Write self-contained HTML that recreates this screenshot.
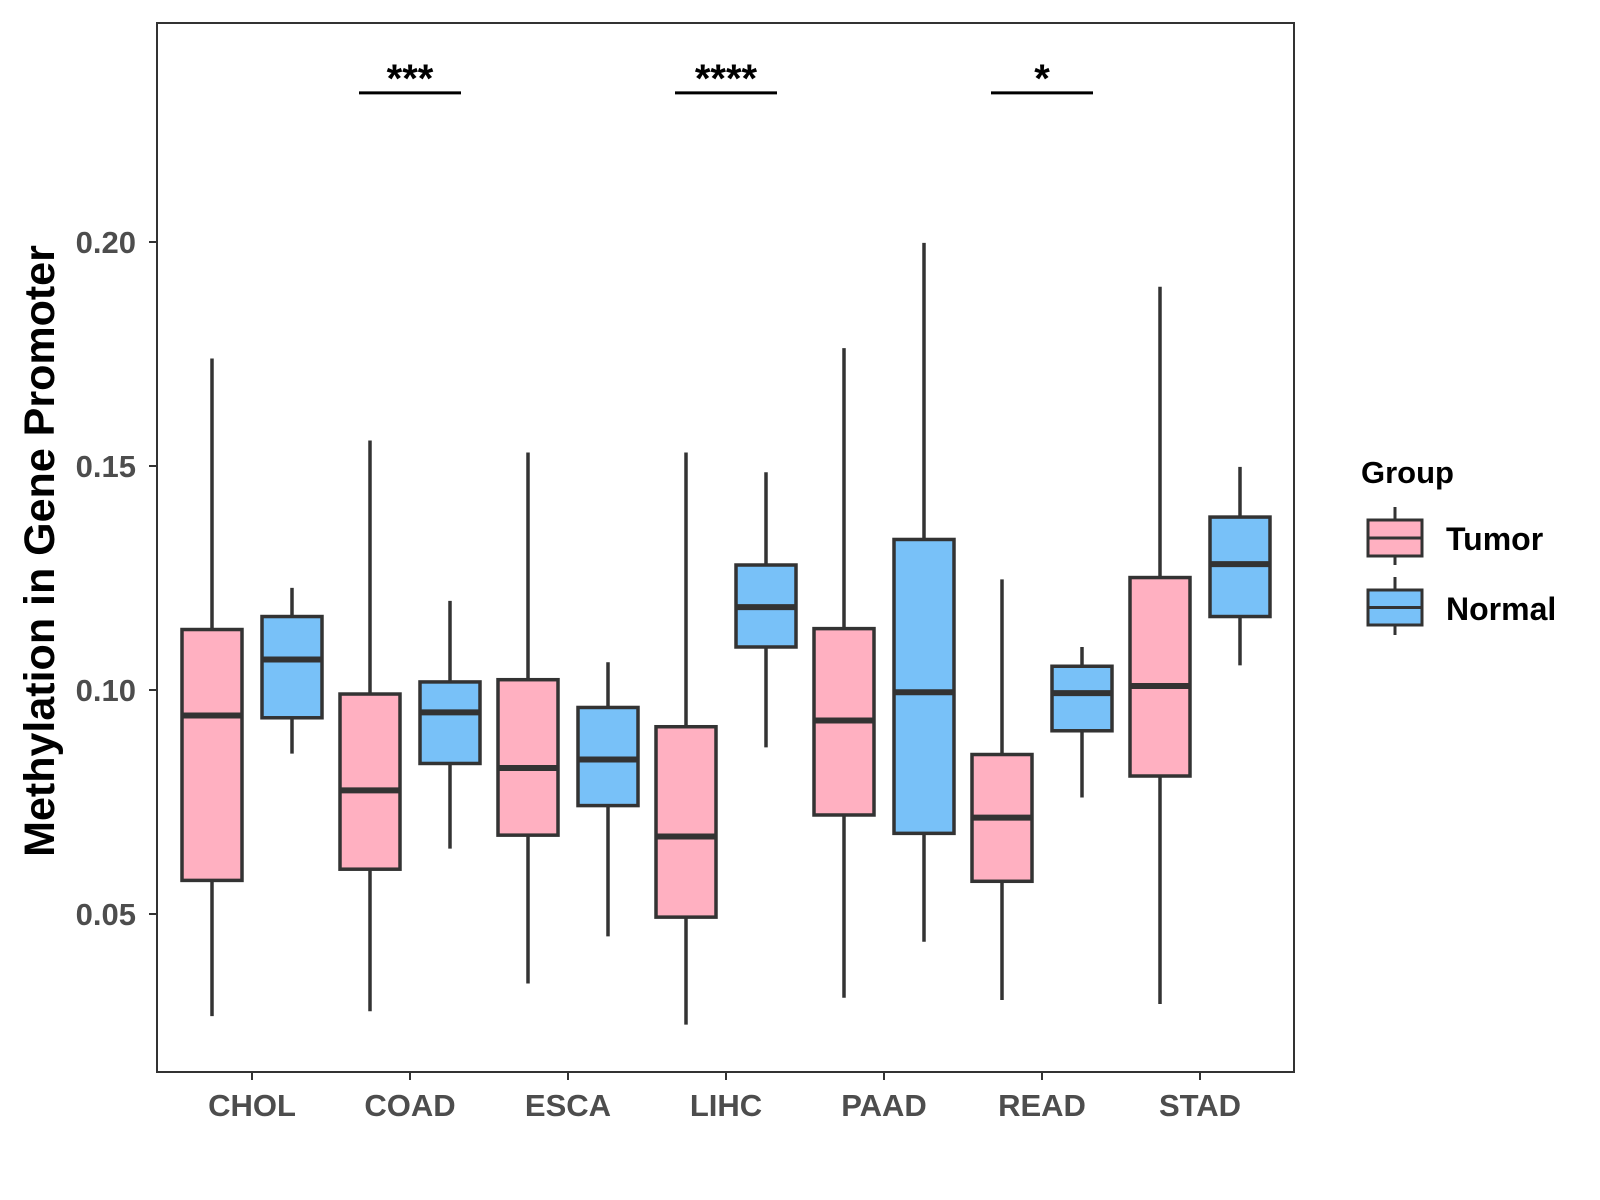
<!DOCTYPE html>
<html><head><meta charset="utf-8"><style>
html,body{margin:0;padding:0;background:#fff;}
svg{display:block;font-family:"Liberation Sans",Arial,sans-serif;font-weight:bold;}
</style></head><body>
<svg id="chart" width="1600" height="1200" viewBox="0 0 1600 1200">
<rect x="157" y="23" width="1137" height="1049" fill="#fff" stroke="#333" stroke-width="2"/>
<g id="boxes"></g>
<g id="axes"></g>
<g id="sig"></g>
<text transform="translate(54,551) rotate(-90)" text-anchor="middle" font-size="43" fill="#000">Methylation in Gene Promoter</text>
<g>
<text x="1368" y="483" font-size="31" fill="#000" transform="translate(-7,0)">Group</text>
<g transform="translate(-7,-1)">
<line x1="1402" y1="508" x2="1402" y2="566" stroke="#333" stroke-width="3"/>
<rect x="1375" y="521" width="54" height="36" fill="#FFB0C1" stroke="#333" stroke-width="3"/>
<line x1="1375" y1="539" x2="1429" y2="539" stroke="#333" stroke-width="3"/>
<text x="1453" y="551" font-size="32" fill="#000">Tumor</text>
</g>
<g transform="translate(-7,-1)">
<line x1="1402" y1="578" x2="1402" y2="636" stroke="#333" stroke-width="3"/>
<rect x="1375" y="591" width="54" height="35" fill="#78C1F8" stroke="#333" stroke-width="3"/>
<line x1="1375" y1="608.5" x2="1429" y2="608.5" stroke="#333" stroke-width="3"/>
<text x="1453" y="621" font-size="32" fill="#000">Normal</text>
</g>
</g>
</svg>
<script>
const categories=["CHOL","COAD","ESCA","LIHC","PAAD","READ","STAD"];
// [lowerWhisker, Q1, median, Q3, upperWhisker]
const tumorStats=[[0.0272,0.0575,0.0943,0.1135,0.174],[0.0283,0.060,0.0776,0.0991,0.1557],[0.0345,0.0676,0.0826,0.1023,0.153],[0.0253,0.0493,0.0673,0.0918,0.153],[0.0313,0.0721,0.0932,0.1137,0.1763],[0.0308,0.0573,0.0715,0.0856,0.1247],[0.0299,0.0808,0.1009,0.1251,0.19]];
const normalStats=[[0.0858,0.0938,0.1068,0.1164,0.1228],[0.0646,0.0836,0.095,0.1018,0.1199],[0.045,0.0742,0.0845,0.0961,0.1062],[0.0872,0.1096,0.1185,0.1279,0.1486],[0.0438,0.068,0.0995,0.1336,0.1998],[0.076,0.0909,0.0993,0.1053,0.1096],[0.1055,0.1164,0.1281,0.1386,0.1498]];
const yTicks=[0.05,0.10,0.15,0.20];
const yTickLabels=["0.05","0.10","0.15","0.20"];
const sigCats=["COAD","LIHC","READ"];
const sigLabels=["***","****","*"];
const sigY=0.2333;

const NS="http://www.w3.org/2000/svg";
function y(v){return 242+(0.20-v)*4480;}
function x(i){return 252+i*158;}
function mk(tag,attrs,parent){const e=document.createElementNS(NS,tag);for(const k in attrs)e.setAttribute(k,attrs[k]);parent.appendChild(e);return e;}
const boxes=document.getElementById('boxes'),axes=document.getElementById('axes'),sig=document.getElementById('sig');
function drawBox(cx,s,fill,name){
  const g=mk('g',{},boxes);
  
  
  mk('line',{x1:cx,x2:cx,y1:y(s[4]),y2:y(s[3]),stroke:'#333','stroke-width':3.5},g);
  mk('line',{x1:cx,x2:cx,y1:y(s[1]),y2:y(s[0]),stroke:'#333','stroke-width':3.5},g);
  mk('rect',{x:cx-30,y:y(s[3]),width:60,height:y(s[1])-y(s[3]),fill:fill,stroke:'#333','stroke-width':3.5},g);
  mk('line',{x1:cx-30,x2:cx+30,y1:y(s[2]),y2:y(s[2]),stroke:'#333','stroke-width':6},g);
}
categories.forEach((c,i)=>{
  drawBox(x(i)-40,tumorStats[i],'#FFB0C1','box-tumor-'+c.toLowerCase());
  drawBox(x(i)+40,normalStats[i],'#78C1F8','box-normal-'+c.toLowerCase());
  const t=mk('line',{x1:x(i),x2:x(i),y1:1072,y2:1080,stroke:'#333','stroke-width':2},axes);
  
  
  const l=mk('text',{x:x(i),y:1116,'text-anchor':'middle','font-size':31,fill:'#4d4d4d'},axes);
  
  
  l.textContent=c;
});
yTicks.forEach((v,i)=>{
  const t=mk('line',{x1:149,x2:157,y1:y(v),y2:y(v),stroke:'#333','stroke-width':2},axes);
  
  
  const l=mk('text',{x:136,y:y(v)+11,'text-anchor':'end','font-size':31,fill:'#4d4d4d'},axes);
  
  
  l.textContent=yTickLabels[i];
});
sigCats.forEach((c,k)=>{
  const i=categories.indexOf(c);
  const ln=mk('line',{x1:x(i)-51,x2:x(i)+51,y1:y(sigY),y2:y(sigY),stroke:'#000','stroke-width':3},sig);
  
  
  const t=mk('text',{x:x(i),y:y(sigY)-1,'text-anchor':'middle','font-size':40,fill:'#000'},sig);
  
  
  t.textContent=sigLabels[k];
});
</script>
</body></html>
